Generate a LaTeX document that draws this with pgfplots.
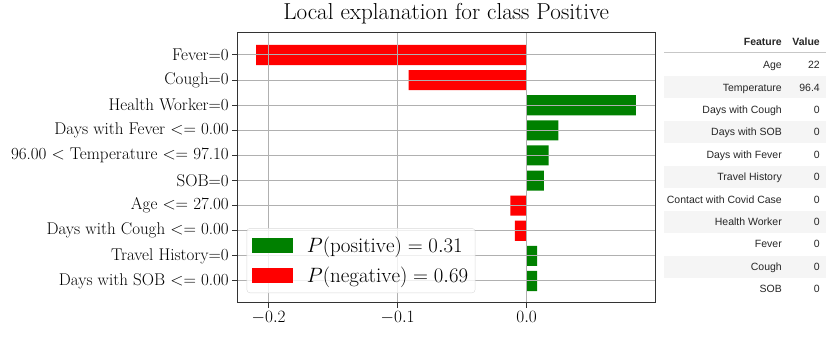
\documentclass[border=0pt]{standalone}
\usepackage{fontspec}
\usepackage{pgfplots}
\pgfplotsset{compat=1.18}
\newfontfamily\tablefont{Liberation Sans}
\definecolor{mplgreen}{RGB}{0,128,0}
\definecolor{mplred}{RGB}{255,0,0}
\definecolor{gridgray}{RGB}{176,176,176}
\definecolor{rowshade}{RGB}{245,245,245}
\begin{document}
\begin{tikzpicture}
\path[use as bounding box] (0pt,0pt) rectangle (830pt,339pt);
% table shading
\foreach \i in {1,3,5,7,9} {
  \pgfmathsetmacro{\yc}{339-65-22.4*\i}
  \fill[rowshade] (664pt,{(\yc-11)*1pt}) rectangle (825.7pt,{(\yc+11)*1pt});
}
\draw[black!22, line width=1pt] (664pt,286.3pt) -- (825.7pt,286.3pt);
\node[anchor=base east, font=\tablefont\fontsize{10.5}{12}\selectfont\bfseries, text=black!85, inner sep=0pt] at (782pt,293.5pt) {Feature};
\node[anchor=base east, font=\tablefont\fontsize{10.5}{12}\selectfont\bfseries, text=black!85, inner sep=0pt] at (820pt,293.5pt) {Value};
\foreach \name/\val [count=\i from 0] in {Age/22, Temperature/96.4, Days with Cough/0, Days with SOB/0, Days with Fever/0, Travel History/0, Contact with Covid Case/0, Health Worker/0, Fever/0, Cough/0, SOB/0} {
  \pgfmathsetmacro{\yb}{339-65-3.75-22.4*\i}
  \node[anchor=base east, font=\tablefont\fontsize{10.5}{12}\selectfont, text=black!85, inner sep=0pt] at (782pt,\yb pt) {\name};
  \node[anchor=base east, font=\tablefont\fontsize{10.5}{12}\selectfont, text=black!85, inner sep=0pt] at (820pt,\yb pt) {\val};
}
\begin{axis}[
  at={(237.3pt,36pt)}, anchor=south west,
  scale only axis, width=417.7pt, height=270pt,
  xbar, bar width=0.8, bar shift=0pt,
  xmin=-0.2243, xmax=0.0995, ymin=-0.876, ymax=9.876,
  ytick={0,1,2,3,4,5,6,7,8,9},
  yticklabels={{Days with SOB $<=$ 0.00},{Travel History=0},{Days with Cough $<=$ 0.00},{Age $<=$ 27.00},{SOB=0},{96.00 $<$ Temperature $<=$ 97.10},{Days with Fever $<=$ 0.00},{Health Worker=0},{Cough=0},{Fever=0}},
  xtick={-0.2,-0.1,0},
  xticklabel style={font=\fontsize{18}{20}\selectfont, /pgf/number format/.cd, fixed, fixed zerofill, precision=1},
  yticklabel style={font=\fontsize{17}{19}\selectfont},
  tick align=outside, tick pos=left,
  major tick length=5pt,
  grid=major, major grid style={color=gridgray, line width=1pt},
  axis line style={black!80, line width=1pt},
  tick style={black!80, line width=1pt},
  axis on top,
  title={Local explanation for class Positive},
  title style={font=\fontsize{23.1}{26}\selectfont, at={(axis description cs:0.5,1)}, anchor=base, yshift=7pt},
  legend cell align=left,
  legend image code/.code={\draw[#1,draw=none,sharp corners,fill opacity=1] (0pt,-7.5pt) rectangle (41pt,7.5pt);},
  legend style={at={(axis description cs:0.0225,0.037)}, anchor=south west,
    font=\fontsize{21}{24}\selectfont, draw=black!15, rounded corners=3pt,
    fill=white, fill opacity=0.8, text opacity=1, inner xsep=5pt, inner ysep=7pt,
    row sep=8.3pt, column sep=12pt},
]
\addplot[fill=mplgreen, draw=none] coordinates {(0.0847,7) (0.0245,6) (0.0170,5) (0.0134,4) (0.0082,1) (0.0081,0)};
\addlegendentry{$P(\mathrm{positive}) = 0.31$}
\addplot[fill=mplred, draw=none] coordinates {(-0.2098,9) (-0.0915,8) (-0.0127,3) (-0.0091,2)};
\addlegendentry{$P(\mathrm{negative}) = 0.69$}
\end{axis}
\end{tikzpicture}
\end{document}
